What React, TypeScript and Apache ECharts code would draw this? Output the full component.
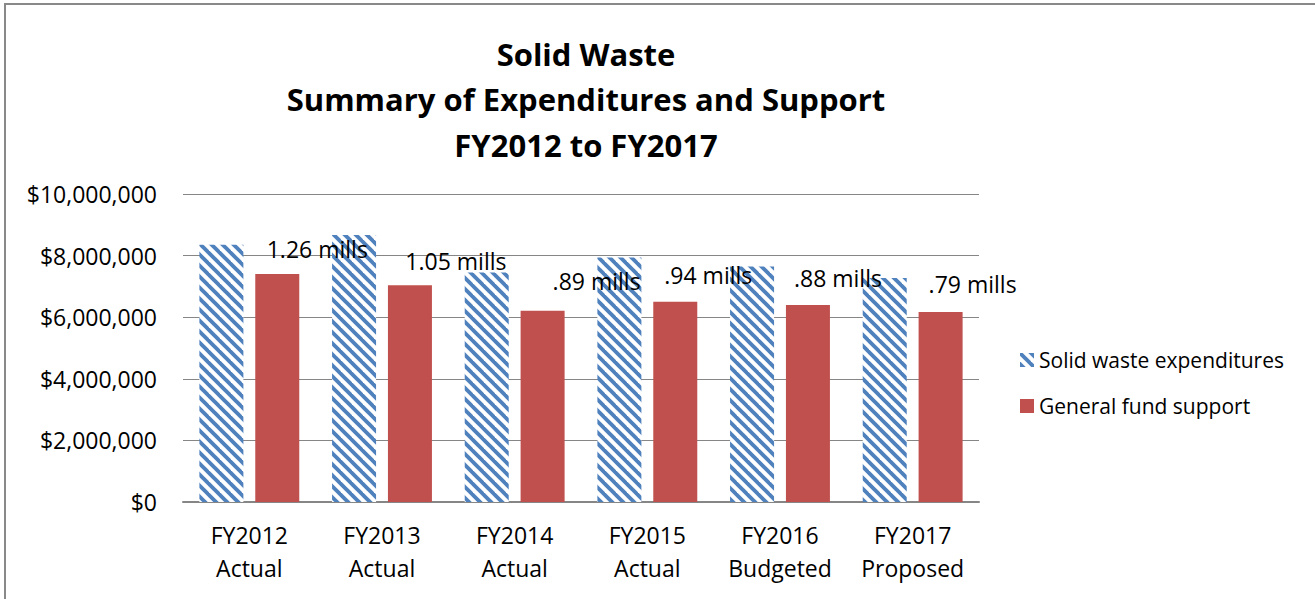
import React, { useEffect, useRef } from "react";
import * as echarts from "echarts";

const categories = [
  "FY2012\nActual",
  "FY2013\nActual",
  "FY2014\nActual",
  "FY2015\nActual",
  "FY2016\nBudgeted",
  "FY2017\nProposed",
];
const expenditures = [8350000, 8670000, 7450000, 7940000, 7650000, 7270000];
const generalFund = [7400000, 7040000, 6210000, 6500000, 6400000, 6170000];
const mills = ["1.26", "1.05", ".89", ".94", ".88", ".79"];
const titleLines = ["Solid Waste", "Summary of Expenditures and Support", "FY2012 to FY2017"];
const seriesNames = ["Solid waste expenditures", "General fund support"];

// label placement (styling, not data): [dx, dy]
const labelShift: [number, number][] = [
  [40, -7],
  [46, -6],
  [54, -12],
  [33, -9],
  [30, -9],
  [32, -10],
];

const FONT = "'Open Sans', 'Noto Sans', sans-serif";

function makeStripes(): HTMLCanvasElement {
  const p = 11;
  const c = document.createElement("canvas");
  c.width = p;
  c.height = p;
  const ctx = c.getContext("2d")!;
  ctx.fillStyle = "#ffffff";
  ctx.fillRect(0, 0, p, p);
  ctx.strokeStyle = "#4F81BD";
  ctx.lineWidth = 3.8;
  for (const o of [-p, 0, p]) {
    ctx.beginPath();
    ctx.moveTo(o - 2, -2);
    ctx.lineTo(o + p + 2, p + 2);
    ctx.stroke();
  }
  return c;
}

export default function App() {
  const ref = useRef<HTMLDivElement>(null);

  useEffect(() => {
    if (!ref.current) return;
    const chart = echarts.init(ref.current, null, { renderer: "svg" });
    const stripes = makeStripes();

    chart.setOption({
      animation: false,
      backgroundColor: "#ffffff",
      title: {
        text: titleLines.join("\n"),
        left: 586,
        top: 31,
        textAlign: "center",
        padding: 0,
        textStyle: {
          fontFamily: FONT,
          fontWeight: "bold",
          fontSize: 31,
          lineHeight: 45.5,
          color: "#000000",
        },
      },
      graphic: [
        {
          type: "rect",
          silent: true,
          z: -10,
          shape: { x: 5, y: 4, width: 1400, height: 700 },
          style: { fill: "none", stroke: "#898989", lineWidth: 2 },
        },
      ],
      legend: {
        orient: "vertical",
        left: 1020,
        top: 348,
        padding: 0,
        itemWidth: 14,
        itemHeight: 14,
        itemGap: 22,
        icon: "rect",
        textStyle: {
          fontFamily: FONT,
          fontSize: 21,
          lineHeight: 24,
          color: "#000000",
        },
        data: seriesNames,
      },
      grid: {
        left: 183,
        right: 1315 - 979,
        top: 194,
        bottom: 599 - 502,
        containLabel: false,
      },
      xAxis: {
        type: "category",
        data: categories,
        axisLine: { show: true, lineStyle: { color: "#868686", width: 2 } },
        axisTick: { show: false },
        axisLabel: {
          fontFamily: FONT,
          fontSize: 23,
          lineHeight: 33,
          margin: 16,
          color: "#000000",
          interval: 0,
        },
      },
      yAxis: {
        type: "value",
        min: 0,
        max: 10000000,
        interval: 2000000,
        axisLine: { show: false },
        axisTick: { show: false },
        splitLine: { show: true, lineStyle: { color: "#868686", width: 1 } },
        axisLabel: {
          fontFamily: FONT,
          fontSize: 23,
          margin: 26,
          color: "#000000",
          formatter: (v: number) => "$" + v.toLocaleString("en-US"),
        },
      },
      series: [
        {
          name: seriesNames[0],
          type: "bar",
          barWidth: 44,
          barGap: "27%",
          itemStyle: { color: { image: stripes, repeat: "repeat" } },
          data: expenditures,
        },
        {
          name: seriesNames[1],
          type: "bar",
          barWidth: 44,
          barGap: "27%",
          itemStyle: { color: "#C0504D" },
          data: generalFund.map((v, i) => ({
            value: v,
            label: {
              show: true,
              position: "top",
              distance: 5,
              offset: labelShift[i],
              formatter: `${mills[i]} mills`,
              fontFamily: FONT,
              fontSize: 23,
              lineHeight: 26,
              color: "#000000",
            },
          })),
        },
      ],
    });

    return () => {
      chart.dispose();
    };
  }, []);

  return (
    <div
      ref={ref}
      style={{ position: "absolute", left: 0, top: 0, width: 1315, height: 599, background: "#fff" }}
    />
  );
}
